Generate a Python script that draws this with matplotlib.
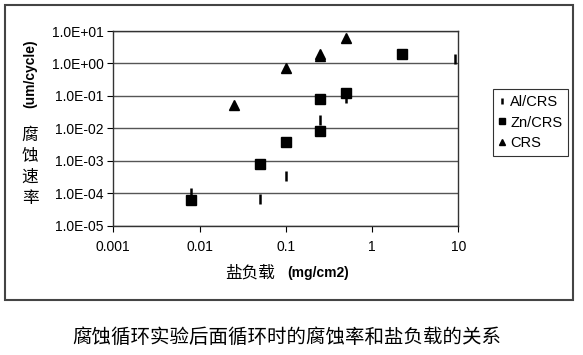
import matplotlib
matplotlib.use("Agg")
import matplotlib.pyplot as plt
from matplotlib.patches import Rectangle

plt.rcParams['font.family'] = ['Liberation Sans', 'Noto Sans CJK SC', 'DejaVu Sans']

# Data
al_x = [0.008, 0.05, 0.1, 0.25, 0.5, 9.1]
al_y = [1.0e-4, 6.6e-5, 3.4e-4, 1.8e-2, 8.5e-2, 1.4]
zn_x = [0.008, 0.05, 0.1, 0.25, 0.25, 0.5, 2.25]
zn_y = [6.0e-5, 8.0e-4, 3.9e-3, 8.5e-3, 7.8e-2, 1.2e-1, 2.0]
crs_x = [0.025, 0.1, 0.25, 0.25, 0.5]
crs_y = [0.052, 0.7, 2.0, 1.7, 5.9]

xticks = [0.001, 0.01, 0.1, 1, 10]
xtick_labels = ['0.001', '0.01', '0.1', '1', '10']
yticks = [1e-5, 1e-4, 1e-3, 1e-2, 1e-1, 1e0, 1e1]
ytick_labels = ['1.0E-05', '1.0E-04', '1.0E-03', '1.0E-02', '1.0E-01', '1.0E+00', '1.0E+01']

W, H = 583, 355
fig = plt.figure(figsize=(W / 100, H / 100), dpi=100)

# outer frame
fig.patches.append(Rectangle((5 / W, 1 - 300 / H), 568 / W, 295 / H,
                             transform=fig.transFigure, fill=False,
                             edgecolor='#444444', linewidth=1.5))

ax = fig.add_axes([113.3 / W, 1 - 225.7 / H, 345 / W, 194.7 / H])
ax.set_xscale('log')
ax.set_yscale('log')
ax.set_xlim(0.001, 10)
ax.set_ylim(1e-5, 10)

ax.plot(al_x, al_y, linestyle='none', marker='|', markersize=7, markeredgewidth=1.8,
        color='black', label='Al/CRS')
ax.plot(zn_x, zn_y, linestyle='none', marker='s', markersize=6.5, color='black',
        label='Zn/CRS')
ax.plot(crs_x, crs_y, linestyle='none', marker='^', markersize=6.5, color='black',
        label='CRS')

ax.set_xticks(xticks)
ax.set_xticklabels(xtick_labels)
ax.set_yticks(yticks)
ax.set_yticklabels(ytick_labels)
ax.minorticks_off()
ax.tick_params(axis='both', direction='out', length=4, width=0.8, labelsize=10,
               colors='black')
ax.tick_params(axis='x', pad=6)
ax.tick_params(axis='y', pad=3)
ax.grid(True, axis='y', color='#555555', linewidth=1.0)
ax.grid(False, axis='x')
ax.set_axisbelow(True)
for s in ax.spines.values():
    s.set_color('#333333')
    s.set_linewidth(1.0)

leg = ax.legend(loc='center left', bbox_to_anchor=(1.10, 0.53), frameon=True,
                fancybox=False, edgecolor='black', fontsize=10.5, markerscale=0.7,
                handlelength=0.5, handletextpad=0.3, borderpad=0.4,
                labelspacing=0.45, borderaxespad=0)
leg.get_frame().set_linewidth(0.8)

# y label
fig.text(30 / W, 1 - 74 / H, '(um/cycle)', rotation=90, ha='center', va='center',
         fontsize=10, fontweight='bold')
for i, ch in enumerate('腐蚀速率'):
    fig.text(30 / W, 1 - (135 + 21 * i) / H, ch, ha='center', va='center',
             fontsize=12, family=['Noto Sans CJK SC'], fontweight='medium')

# x label
fig.text(250 / W, 1 - 273 / H, '盐负载', ha='center', va='center', fontsize=12,
         family=['Noto Sans CJK SC'], fontweight='medium')
fig.text(287 / W, 1 - 273 / H, '(mg/cm2)', ha='left', va='center', fontsize=10,
         fontweight='bold')

# caption
fig.text(287 / W, 1 - 337 / H, '腐蚀循环实验后面循环时的腐蚀率和盐负载的关系',
         ha='center', va='center', fontsize=14, family=['Noto Sans CJK SC'],
         fontweight='medium')

fig.savefig('out.png', dpi=100)
